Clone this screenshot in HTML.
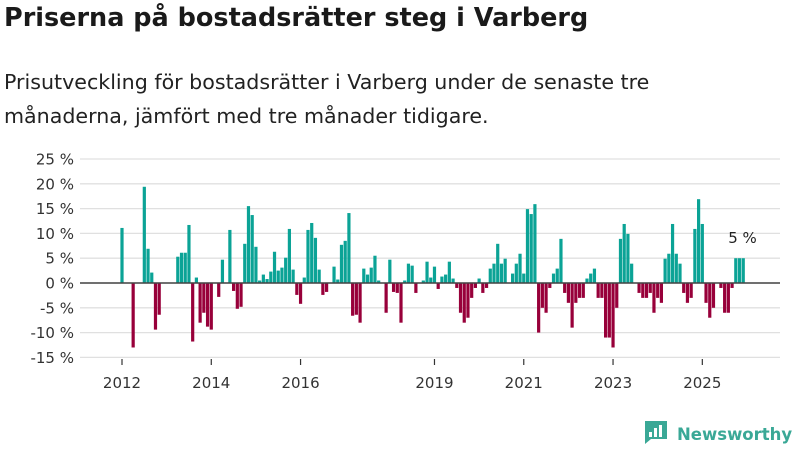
<!DOCTYPE html>
<html><head><meta charset="utf-8"><style>
body{margin:0;width:800px;height:450px;background:#fff;font-family:"DejaVu Sans",sans-serif;overflow:hidden;position:relative}
h1{position:absolute;left:4px;top:3px;margin:0;font-size:25.5px;font-weight:bold;color:#1a1a1a;white-space:nowrap}
p{position:absolute;left:4px;top:65px;margin:0;font-size:20.6px;line-height:34px;color:#222;white-space:nowrap}
svg{position:absolute;left:0;top:0}
svg text{font-family:"DejaVu Sans",sans-serif}
</style></head><body>
<h1>Priserna på bostadsrätter steg i Varberg</h1>
<p>Prisutveckling för bostadsrätter i Varberg under de senaste tre<br>månaderna, jämfört med tre månader tidigare.</p>
<svg id="chart" width="800" height="450"></svg>
<script>
const startYear = 2012;
const yTicks = [25,20,15,10,5,0,-5,-10,-15];
const xTickYears = [2012,2014,2016,2019,2021,2023,2025];
const values = [
11.1,null,null,-13,null,null,19.4,6.9,2.1,-9.4,-6.4,null,
null,null,null,5.3,6.1,6.1,11.7,-11.8,1.1,-8,-6,-8.8,
-9.4,null,-2.8,4.7,null,10.7,-1.6,-5.2,-4.8,7.9,15.5,13.7,
7.3,0.5,1.7,0.8,2.3,6.3,2.5,3.1,5.1,10.9,2.7,-2.4,
-4.2,1.1,10.7,12.1,9.1,2.7,-2.4,-1.8,null,3.3,0.7,7.7,
8.5,14.1,-6.6,-6.4,-8,2.9,1.7,3.1,5.5,0.5,null,-6,
4.7,-1.8,-2,-8,0.5,3.9,3.5,-2,null,0.5,4.3,1.1,
3.3,-1.2,1.3,1.7,4.3,0.9,-1,-6,-8,-7,-3,-1,
0.9,-2,-1,2.9,3.9,7.9,3.9,4.9,null,1.9,3.9,5.9,
1.9,14.9,13.9,15.9,-10,-5,-6,-1,1.9,2.9,8.9,-2,
-4,-9,-4,-3,-3,0.9,1.9,2.9,-3,-3,-11,-11,
-13,-5,8.9,11.9,9.9,3.9,null,-2,-3,-3,-2,-6,
-3,-4,4.9,5.9,11.9,5.9,3.9,-2,-4,-3,10.9,16.9,
11.9,-4,-7,-5,null,-1,-6,-6,-1,5,5,5
];
const lastLabel = "5 %";
const svg=document.getElementById('chart');
const NS='http://www.w3.org/2000/svg';
const yScale=v=>283-v*4.96;
const xScale=m=>122+m*3.72;
function mk(t,a){const e=document.createElementNS(NS,t);for(const k in a)e.setAttribute(k,a[k]);svg.appendChild(e);return e;}
yTicks.forEach(t=>{
  const g=mk('line',{x1:80,x2:780,y1:yScale(t),y2:yScale(t),stroke:'#e0e0e0','stroke-width':1.3});
  
  
  const l=mk('text',{x:74,y:yScale(t)+5.5,'text-anchor':'end','font-size':15,fill:'#333'});
  l.textContent=t+' %';
  
  
});
values.forEach((v,m)=>{
  if(v===null)return;
  const y0=yScale(0),y1=yScale(v);
  const r=mk('rect',{x:xScale(m)-1.6,width:3.2,y:Math.min(y0,y1),height:Math.abs(y1-y0),fill:v>=0?'#0ba396':'#98003a'});
  
  
});
const z=mk('line',{x1:80,x2:780,y1:yScale(0),y2:yScale(0),stroke:'#444','stroke-width':1.5});


xTickYears.forEach(yr=>{
  const x=xScale((yr-startYear)*12);
  const t=mk('line',{x1:x,x2:x,y1:359,y2:365,stroke:'#333','stroke-width':1.2});
  
  
  const l=mk('text',{x:x,y:388,'text-anchor':'middle','font-size':15,fill:'#333'});
  l.textContent=yr;
  
  
});
const lastIdx=values.length-1;
const lab=mk('text',{x:xScale(lastIdx-1)+3,y:yScale(values[lastIdx])-15,'text-anchor':'middle','font-size':15,fill:'#222'});
lab.textContent=lastLabel;


// logo
const lg=mk('g',{});


const ic=document.createElementNS(NS,'path');
ic.setAttribute('d','M645 421h22v18h-16l-6 5z');
ic.setAttribute('fill','#3aa896');
lg.appendChild(ic);
[[649,432,3,5],[654,428,3,9],[659,425,3,12]].forEach(b=>{const r=document.createElementNS(NS,'rect');r.setAttribute('x',b[0]);r.setAttribute('y',b[1]);r.setAttribute('width',b[2]);r.setAttribute('height',b[3]);r.setAttribute('fill','#fff');lg.appendChild(r);});
const lt=document.createElementNS(NS,'text');
lt.setAttribute('x',677);lt.setAttribute('y',440);lt.setAttribute('font-size',16.5);lt.setAttribute('font-weight','bold');lt.setAttribute('fill','#3aa896');
lt.textContent='Newsworthy';
lg.appendChild(lt);
</script>
</body></html>
